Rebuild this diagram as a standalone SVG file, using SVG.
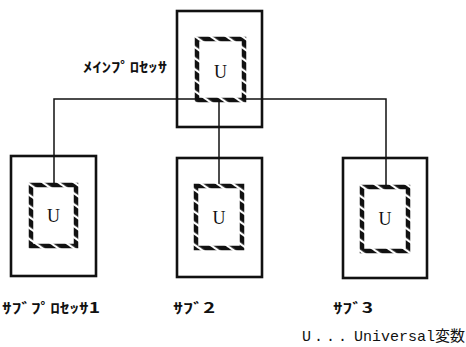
<svg xmlns="http://www.w3.org/2000/svg" width="466" height="347" viewBox="0 0 466 347">
  <style>
    .box { fill: none; stroke: #111; stroke-width: 2.6; }
    .var { fill: #fff; stroke: url(#hatch); stroke-width: 4.5; }
    .wire { fill: none; stroke: #111; stroke-width: 1.5; }
    .u { font-family: "Liberation Serif", serif; font-size: 18px; fill: #111; text-anchor: middle; }
    .lbl { font-family: "Noto Sans CJK JP", "DejaVu Sans", sans-serif; font-size: 14px; font-weight: bold; fill: #111; }
    .note { font-family: "Liberation Mono", "Noto Sans CJK JP", monospace; font-size: 15px; fill: #111; }
  </style>
  <defs>
    <!-- slanted black/white hatching for the variable frames -->
    <pattern id="hatch" patternUnits="userSpaceOnUse" width="9" height="9" patternTransform="rotate(-55)">
      <rect width="9" height="9" fill="#111"/>
      <rect x="0" y="0" width="2.2" height="9" fill="#fff"/>
    </pattern>
  </defs>

  <!-- connectors -->
  <g id="connectors">
    <polyline class="wire" points="54,185 54,99 386,99 386,187"/>
    <line class="wire" x1="219" y1="100" x2="219" y2="186"/>
  </g>

  <!-- main processor -->
  <g id="main">
    <rect class="box" x="177" y="11" width="85" height="116"/>
    <rect class="var" x="197" y="39" width="47" height="61"/>
    <text class="u" x="220.5" y="78">U</text>
    <text class="lbl" x="83" y="72" textLength="84" lengthAdjust="spacingAndGlyphs">ﾒｲﾝﾌﾟﾛｾｯｻ</text>
  </g>

  <!-- sub processor 1 -->
  <g id="sub1">
    <rect class="box" x="11" y="156" width="85" height="120"/>
    <rect class="var" x="31" y="185" width="45" height="61"/>
    <text class="u" x="53.5" y="222">U</text>
    <text class="lbl" x="2" y="313" textLength="98" lengthAdjust="spacingAndGlyphs">ｻﾌﾞﾌﾟﾛｾｯｻ1</text>
  </g>

  <!-- sub processor 2 -->
  <g id="sub2">
    <rect class="box" x="177" y="158" width="85" height="119"/>
    <rect class="var" x="196" y="186" width="46" height="62"/>
    <text class="u" x="219" y="224">U</text>
    <text class="lbl" x="173" y="313" textLength="42" lengthAdjust="spacingAndGlyphs">ｻﾌﾞ2</text>
  </g>

  <!-- sub processor 3 -->
  <g id="sub3">
    <rect class="box" x="343" y="158" width="84" height="120"/>
    <rect class="var" x="362" y="187" width="46" height="64"/>
    <text class="u" x="385" y="225">U</text>
    <text class="lbl" x="333" y="313" textLength="40" lengthAdjust="spacingAndGlyphs">ｻﾌﾞ3</text>
  </g>

  <!-- legend -->
  <text class="note" y="341"><tspan x="302">U</tspan><tspan x="314">.</tspan><tspan x="326">.</tspan><tspan x="338">.</tspan><tspan x="354">Universal変数</tspan></text>
</svg>
